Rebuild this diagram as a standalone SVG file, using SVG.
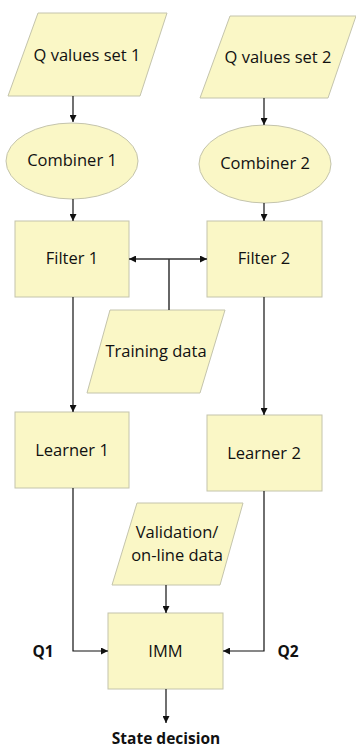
<svg xmlns="http://www.w3.org/2000/svg" width="356" height="749" viewBox="0 0 356 749">
<defs>
<style>
.n{fill:#FAF7C6;stroke:#C4C4AC;stroke-width:1}
.t{font-family:"Open Sans","Liberation Sans",sans-serif;font-size:16.5px;fill:#111;text-anchor:middle}
.b{font-family:"Open Sans","Liberation Sans",sans-serif;font-size:15.5px;font-weight:bold;fill:#111;text-anchor:middle}
.c{fill:none;stroke:#111;stroke-width:1.2}
.g{fill:none;stroke:#333;stroke-width:1.5}
</style>
<marker id="ah" viewBox="0 0 10 10" refX="10" refY="5" markerWidth="7" markerHeight="7" markerUnits="userSpaceOnUse" orient="auto">
<path d="M0,0 L10,5 L0,10 z" fill="#111"/>
</marker>
</defs>
<g id="q1"><polygon class="n" points="38,13 167,13 140,96 8,96"/><text class="t" x="87" y="61">Q values set 1</text></g>
<g id="q2"><polygon class="n" points="230,16 356,16 328,98 200,98"/><text class="t" x="278" y="63">Q values set 2</text></g>
<g id="comb1"><ellipse class="n" cx="72" cy="161" rx="66" ry="38"/><text class="t" x="72" y="166">Combiner 1</text></g>
<g id="comb2"><ellipse class="n" cx="265" cy="164" rx="66" ry="39"/><text class="t" x="265" y="169">Combiner 2</text></g>
<g id="filter1"><rect class="n" x="15" y="221" width="114" height="76"/><text class="t" x="72" y="264">Filter 1</text></g>
<g id="filter2"><rect class="n" x="207" y="221" width="115" height="76"/><text class="t" x="264" y="264">Filter 2</text></g>
<g id="training"><polygon class="n" points="110,310 225,310 200,393 87,393"/><text class="t" x="156" y="357">Training data</text></g>
<g id="learner1"><rect class="n" x="15" y="412" width="114" height="76"/><text class="t" x="72" y="456">Learner 1</text></g>
<g id="learner2"><rect class="n" x="207" y="415" width="115" height="76"/><text class="t" x="264" y="459">Learner 2</text></g>
<g id="validation"><polygon class="n" points="137,503 243,503 220,585 112,585"/><text class="t" x="177" y="538">Validation/</text><text class="t" x="177" y="561">on-line data</text></g>
<g id="imm"><rect class="n" x="108" y="613" width="115" height="76"/><text class="t" x="165.5" y="657">IMM</text></g>
<g id="labels"><text class="b" x="43" y="657">Q1</text><text class="b" x="288" y="657">Q2</text><text class="b" x="166" y="744">State decision</text></g>
<g id="connectors">
<line class="c" x1="73" y1="96" x2="73" y2="122" marker-end="url(#ah)"/>
<line class="c" x1="264" y1="98" x2="264" y2="125" marker-end="url(#ah)"/>
<line class="c" x1="73" y1="199" x2="73" y2="221" marker-end="url(#ah)"/>
<line class="c" x1="264" y1="203" x2="264" y2="221" marker-end="url(#ah)"/>
<line class="g" x1="169" y1="259" x2="129" y2="259" marker-end="url(#ah)"/>
<line class="g" x1="169" y1="259" x2="207" y2="259" marker-end="url(#ah)"/>
<line class="g" x1="169" y1="259" x2="169" y2="310"/>
<line class="c" x1="73" y1="297" x2="73" y2="412" marker-end="url(#ah)"/>
<line class="c" x1="264" y1="297" x2="264" y2="415" marker-end="url(#ah)"/>
<polyline class="c" points="73,488 73,651 108,651" marker-end="url(#ah)"/>
<polyline class="c" points="264,491 264,651 223,651" marker-end="url(#ah)"/>
<line class="c" x1="166" y1="585" x2="166" y2="613" marker-end="url(#ah)"/>
<line class="c" x1="166" y1="689" x2="166" y2="723" marker-end="url(#ah)"/>
</g>
</svg>
